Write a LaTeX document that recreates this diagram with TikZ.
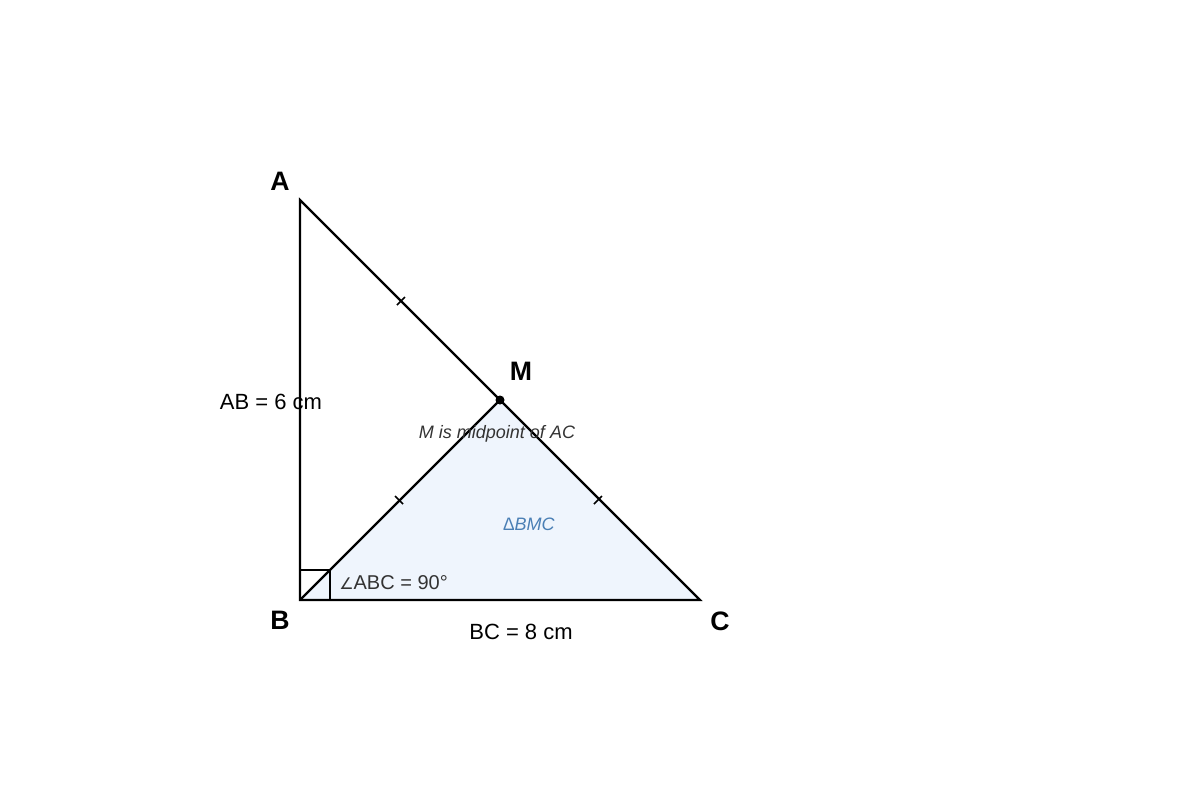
\documentclass[tikz,border=0pt]{standalone}
\usepackage{fontspec}
\setmainfont{Liberation Sans}
\newfontfamily\symfont{DejaVu Sans}
\usepackage{tikz}
\definecolor{bmcfill}{RGB}{239,245,253}
\definecolor{bmctext}{RGB}{74,127,181}
\definecolor{notegray}{RGB}{51,51,51}

\begin{document}
\begin{tikzpicture}[x=0.75pt,y=-0.75pt,
	vertex/.style={font=\fontsize{20}{24}\selectfont\bfseries},
	sidelabel/.style={font=\fontsize{16.5}{20}\selectfont},
	note/.style={font=\fontsize{13.5}{16}\selectfont, text=notegray},
	tickmark/.style={line width=1.3pt},
	edge/.style={line width=1.7pt, line join=miter}]
	\useasboundingbox (0,0) rectangle (1200,800);
	% Define the points
	\coordinate (A) at (300,200);
	\coordinate (B) at (300,600);
	\coordinate (C) at (700,600);
	\coordinate (M) at (500,400);
	% Shade triangle BMC
	\fill[bmcfill] (B) -- (M) -- (C) -- cycle;
	% Right angle at B
	\draw[line width=1.1pt] (B) ++(0,-30) -- ++(30,0) -- ++(0,30);
	% Triangle and median
	\draw[edge] (A) -- (B) -- (C) -- cycle;
	\draw[edge] (B) -- (M);
	\fill (M) circle (4.5);
	% Equal parts
	\foreach \x/\y/\d in {401/301/1,399/500/-1,598/500/1}
		\draw[tickmark] (\x-4,\y+4*\d) -- (\x+4,\y-4*\d);
	% Labels
	\node[vertex] (labA) at (280,181) {A};
	\node[vertex] (labB) at (280,620) {B};
	\node[vertex] (labC) at (720,621) {C};
	\node[vertex] (labM) at (521,371) {M};
	\node[sidelabel] (labAB) at (271,402) {AB = 6 cm};
	\node[sidelabel] (labBC) at (521,632) {BC = 8 cm};
	\node[note, anchor=west, inner sep=0pt, font=\fontsize{15}{18}\selectfont] (labABC) at (339,583) {{\symfont\fontsize{12}{14}\selectfont ∠}ABC = 90°};
	\node[note, font=\fontsize{13.5}{16}\selectfont\itshape] (labMid) at (497,434) {M is midpoint of AC};
	\node[note, text=bmctext, font=\fontsize{13.5}{16}\selectfont\itshape] (labBMC) at (529,524) {∆BMC};
\end{tikzpicture}
\end{document}
